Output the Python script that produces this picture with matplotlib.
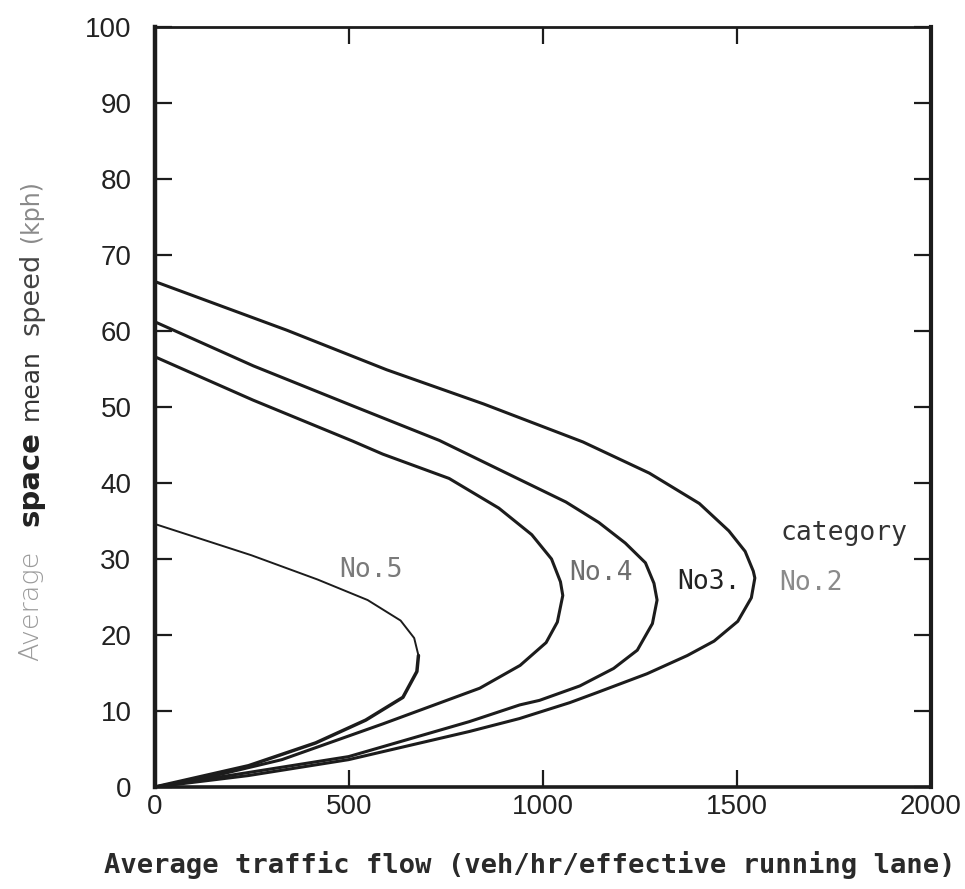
import matplotlib
matplotlib.use("Agg")
import matplotlib.pyplot as plt

# ---- data (flow veh/hr/lane, speed kph) ----
no2_flow = [0, 340, 597, 847, 1103, 1274, 1403, 1479, 1521, 1542, 1546, 1537, 1502, 1441,
            1372, 1268, 1138, 1069, 939, 810, 499, 240, 0]
no2_speed = [66.5, 60.1, 54.9, 50.4, 45.4, 41.3, 37.3, 33.7, 31.0, 28.4, 27.5, 24.9, 21.8, 19.2,
             17.3, 14.9, 12.4, 11.1, 9.0, 7.3, 3.6, 1.5, 0]

no3_flow = [0, 254, 512, 733, 930, 1059, 1144, 1212, 1264, 1286, 1294, 1282, 1243, 1182,
            1095, 991, 940, 810, 499, 240, 0]
no3_speed = [61.2, 55.4, 50.1, 45.6, 40.7, 37.5, 34.8, 32.1, 29.5, 26.8, 24.6, 21.5, 18.0, 15.6,
             13.3, 11.4, 10.8, 8.6, 4.0, 1.9, 0]

no4_flow = [0, 253, 510, 587, 758, 886, 971, 1022, 1045, 1051, 1037, 1008, 941, 837, 587, 327, 155, 0]
no4_speed = [56.6, 50.9, 45.5, 43.8, 40.6, 36.7, 33.2, 30.0, 27.0, 25.2, 21.7, 19.0, 16.0, 13.0,
             8.3, 3.6, 1.5, 0]

no5_flow = [0, 248, 419, 548, 633, 668, 679, 675, 639, 543, 414, 241, 0]
no5_speed = [34.6, 30.5, 27.3, 24.6, 21.9, 19.6, 17.3, 15.2, 11.8, 8.8, 5.8, 2.8, 0]

x_ticks = [0, 500, 1000, 1500, 2000]
y_ticks = [0, 10, 20, 30, 40, 50, 60, 70, 80, 90, 100]

curve_labels = ["No.5", "No.4", "No3.", "No.2", "category"]
label_x = [557, 1150, 1429, 1690, 1775]
label_y = [28.6, 28.1, 27.0, 26.9, 33.4]
label_colors = ["#7a7a7a", "#6e6e6e", "#222222", "#8a8a8a", "#333333"]

W, H = 965, 889
fig = plt.figure(figsize=(W / 100, H / 100), dpi=100)
fig.patch.set_facecolor("white")
ax = fig.add_axes([155 / W, (H - 787) / H, 776 / W, 760 / H])

ink = "#1c1c1c"
kw = dict(color=ink, solid_capstyle="round", solid_joinstyle="round")
ax.plot(no2_flow, no2_speed, lw=2.2, **kw)
ax.plot(no3_flow, no3_speed, lw=2.2, **kw)
ax.plot(no4_flow, no4_speed, lw=2.2, **kw)
nose = 6
ax.plot(no5_flow[:nose + 1], no5_speed[:nose + 1], lw=1.4, **kw)
ax.plot(no5_flow[nose:], no5_speed[nose:], lw=2.5, **kw)

ax.set_xlim(0, 2000)
ax.set_ylim(0, 100)

ax.set_xticks(x_ticks)
ax.set_xticklabels([str(v) for v in x_ticks])
ax.set_yticks(y_ticks)
ax.set_yticklabels([str(v) for v in y_ticks])

for lab in ax.get_xticklabels() + ax.get_yticklabels():
    lab.set_fontfamily("Liberation Sans")
    lab.set_fontsize(20)
    lab.set_color("#222222")

ax.tick_params(axis="both", which="both", direction="in", length=12, width=1.6,
               color=ink, top=True, right=True)
ax.tick_params(axis="y", pad=17)
ax.tick_params(axis="x", pad=5)

spine_w = {"left": 3.2, "right": 3.0, "top": 2.0, "bottom": 2.6}
for name, s in ax.spines.items():
    s.set_linewidth(spine_w[name])
    s.set_color(ink)

for txt, x, y, c in zip(curve_labels, label_x, label_y, label_colors):
    ax.text(x, y, txt, ha="center", va="center", color=c,
            family="DejaVu Sans Mono", fontsize=19)

# x-axis title
fig.text(530 / W, 1 - 865 / H, "Average traffic flow (veh/hr/effective running lane)",
         ha="center", va="center", family="DejaVu Sans Mono", fontweight="bold",
         fontsize=19.5, color="#2a2a2a")

# y-axis title, pieces with different print quality
ylab_parts = ["Average", "space", "mean", "speed", "(kph)"]
ylab_centers = [606, 479, 385, 294, 211]
ylab_sizes = [19.5, 21, 18, 19.5, 17]
ylab_weights = ["light", "bold", "normal", "normal", "normal"]
ylab_colors = ["#9a9a9a", "#222222", "#333333", "#444444", "#8a8a8a"]
for t, cy, sz, wt, c in zip(ylab_parts, ylab_centers, ylab_sizes, ylab_weights, ylab_colors):
    fig.text(31 / W, 1 - cy / H, t, rotation=90, ha="center", va="center",
             family="DejaVu Sans", fontsize=sz, fontweight=wt, color=c)

fig.savefig("out.png", dpi=100, facecolor="white")
